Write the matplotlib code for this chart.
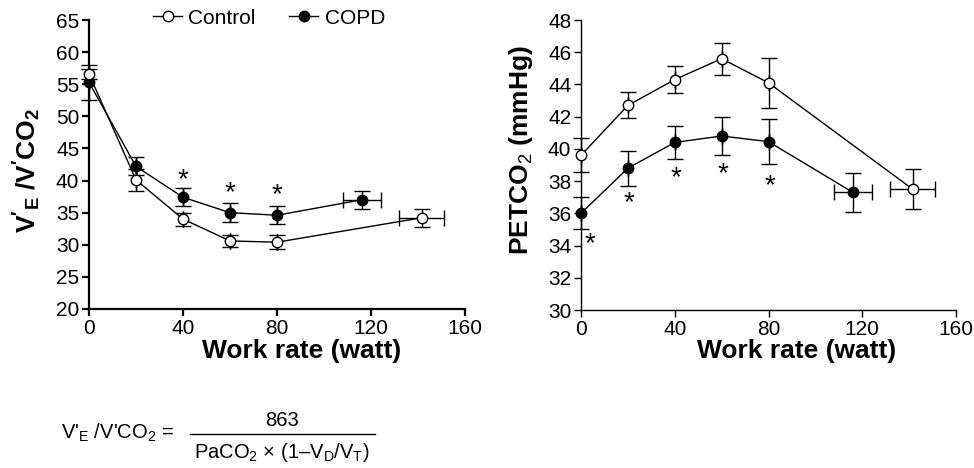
import matplotlib
matplotlib.use("Agg")
import matplotlib.pyplot as plt
from matplotlib.lines import Line2D

plt.rcParams['font.family'] = ['Liberation Sans', 'DejaVu Sans']
plt.rcParams['mathtext.fontset'] = 'custom'
plt.rcParams['mathtext.rm'] = 'Liberation Sans'
plt.rcParams['mathtext.it'] = 'Liberation Sans'
plt.rcParams['mathtext.bf'] = 'Liberation Sans:bold'

# -----------------------------
# Data
# -----------------------------
ctrl_x = [0, 20, 40, 60, 80, 141.5]
ctrl_xerr = [0, 0, 0, 0, 0, 9.7]
copd_x = [0, 20, 40, 60, 80, 116]
copd_xerr = [0, 0, 0, 0, 0, 8.1]

# V'E/V'CO2
ctrl_ve = [56.6, 40.1, 34.0, 30.6, 30.4, 34.2]
ctrl_ve_err = [0.8, 1.7, 1.0, 1.0, 1.1, 1.4]
copd_ve = [55.3, 42.2, 37.4, 35.0, 34.6, 37.0]
copd_ve_err = [2.7, 1.4, 1.4, 1.5, 1.4, 1.4]

# PETCO2 (mmHg)
ctrl_pet = [39.6, 42.7, 44.3, 45.6, 44.1, 37.5]
ctrl_pet_err = [1.05, 0.8, 0.85, 1.0, 1.55, 1.25]
copd_pet = [36.0, 38.8, 40.4, 40.8, 40.45, 37.3]
copd_pet_err = [1.0, 1.1, 1.0, 1.15, 1.4, 1.2]

# significance markers
ve_star_x = [40, 60, 80]
ve_star_y = [40.0, 38.1, 37.7]
pet_star_x = [4, 20.6, 40.5, 60.5, 80.5]
pet_star_y = [34.1, 36.6, 38.15, 38.45, 37.7]

W, H = 974, 468
fig = plt.figure(figsize=(W / 100, H / 100), dpi=100)


def px_axes(x0, x1, y0, y1):
    return fig.add_axes([x0 / W, 1 - y1 / H, (x1 - x0) / W, (y1 - y0) / H])


ax1 = px_axes(89, 465, 20, 309)
ax2 = px_axes(581, 956, 20, 310)


def draw(ax, yc, yce, yp, ype, lw_spine):
    kw = dict(color='black', lw=1.0, elinewidth=1.0, capsize=5.5, capthick=1.0,
              marker='o', markersize=7.5, markeredgewidth=1.0, zorder=3)
    for xs, xe, ys, ye, face in [(copd_x, copd_xerr, yp, ype, 'black'),
                                 (ctrl_x, ctrl_xerr, yc, yce, 'white')]:
        cont = ax.errorbar(xs, ys, yerr=ye, xerr=xe, mfc=face, **kw)
        for art in cont.get_children():
            art.set_clip_on(False)
    ax.spines[['top', 'right']].set_visible(False)
    ax.spines[['left', 'bottom']].set_linewidth(lw_spine)
    ax.tick_params(direction='out', length=5, width=lw_spine, labelsize=15, pad=2)
    ax.set_xlim(0, 160)
    ax.set_xticks([0, 40, 80, 120, 160])


draw(ax1, ctrl_ve, ctrl_ve_err, copd_ve, copd_ve_err, 1.6)
ax1.set_ylim(20, 65)
ax1.set_yticks(range(20, 66, 5))
for x, y in zip(ve_star_x, ve_star_y):
    ax1.text(x, y, '*', ha='center', va='center', fontsize=20)

draw(ax2, ctrl_pet, ctrl_pet_err, copd_pet, copd_pet_err, 1.0)
ax2.set_ylim(30, 48)
ax2.set_yticks(range(30, 49, 2))
for x, y in zip(pet_star_x, pet_star_y):
    ax2.text(x, y, '*', ha='center', va='center', fontsize=20)

# axis titles
fig.text(302 / W, 1 - 351 / H, 'Work rate (watt)', ha='center', va='center',
         fontsize=19, fontweight='bold')
fig.text(797 / W, 1 - 351 / H, 'Work rate (watt)', ha='center', va='center',
         fontsize=19, fontweight='bold')
fig.text(27 / W, 1 - 170 / H, r"$\mathbf{V'_{E}\ /V'CO_{2}}$", rotation=90,
         ha='center', va='center', fontsize=19)
fig.text(521 / W, 1 - 150 / H, r"PETCO$_2$ (mmHg)", rotation=90,
         ha='center', va='center', fontsize=19, fontweight='bold')

# legend
handles = [Line2D([], [], color='black', lw=1.0, marker='o', markersize=7.5, mfc='white'),
           Line2D([], [], color='black', lw=1.0, marker='o', markersize=7.5, mfc='black')]
fig.legend(handles, ['Control', 'COPD'], loc='center left', bbox_to_anchor=(153 / W, 1 - 18 / H),
           ncol=2, frameon=False, fontsize=15, handlelength=1.4, handletextpad=0.3,
           columnspacing=1.6, borderpad=0, borderaxespad=0)

# formula
fig.text(174 / W, 1 - 433 / H, r"V'$_{E}$ /V'CO$_{2}$ =", ha='right', va='center', fontsize=14.5)
fig.text(282 / W, 1 - 421 / H, '863', ha='center', va='center', fontsize=14.5)
fig.add_artist(Line2D([190 / W, 375 / W], [1 - 433.5 / H, 1 - 433.5 / H], color='black', lw=1.0))
fig.text(282 / W, 1 - 452 / H, r"PaCO$_{2}$ × (1–V$_{D}$/V$_{T}$)", ha='center', va='center',
         fontsize=14.5)

fig.savefig('out.png', dpi=100)
